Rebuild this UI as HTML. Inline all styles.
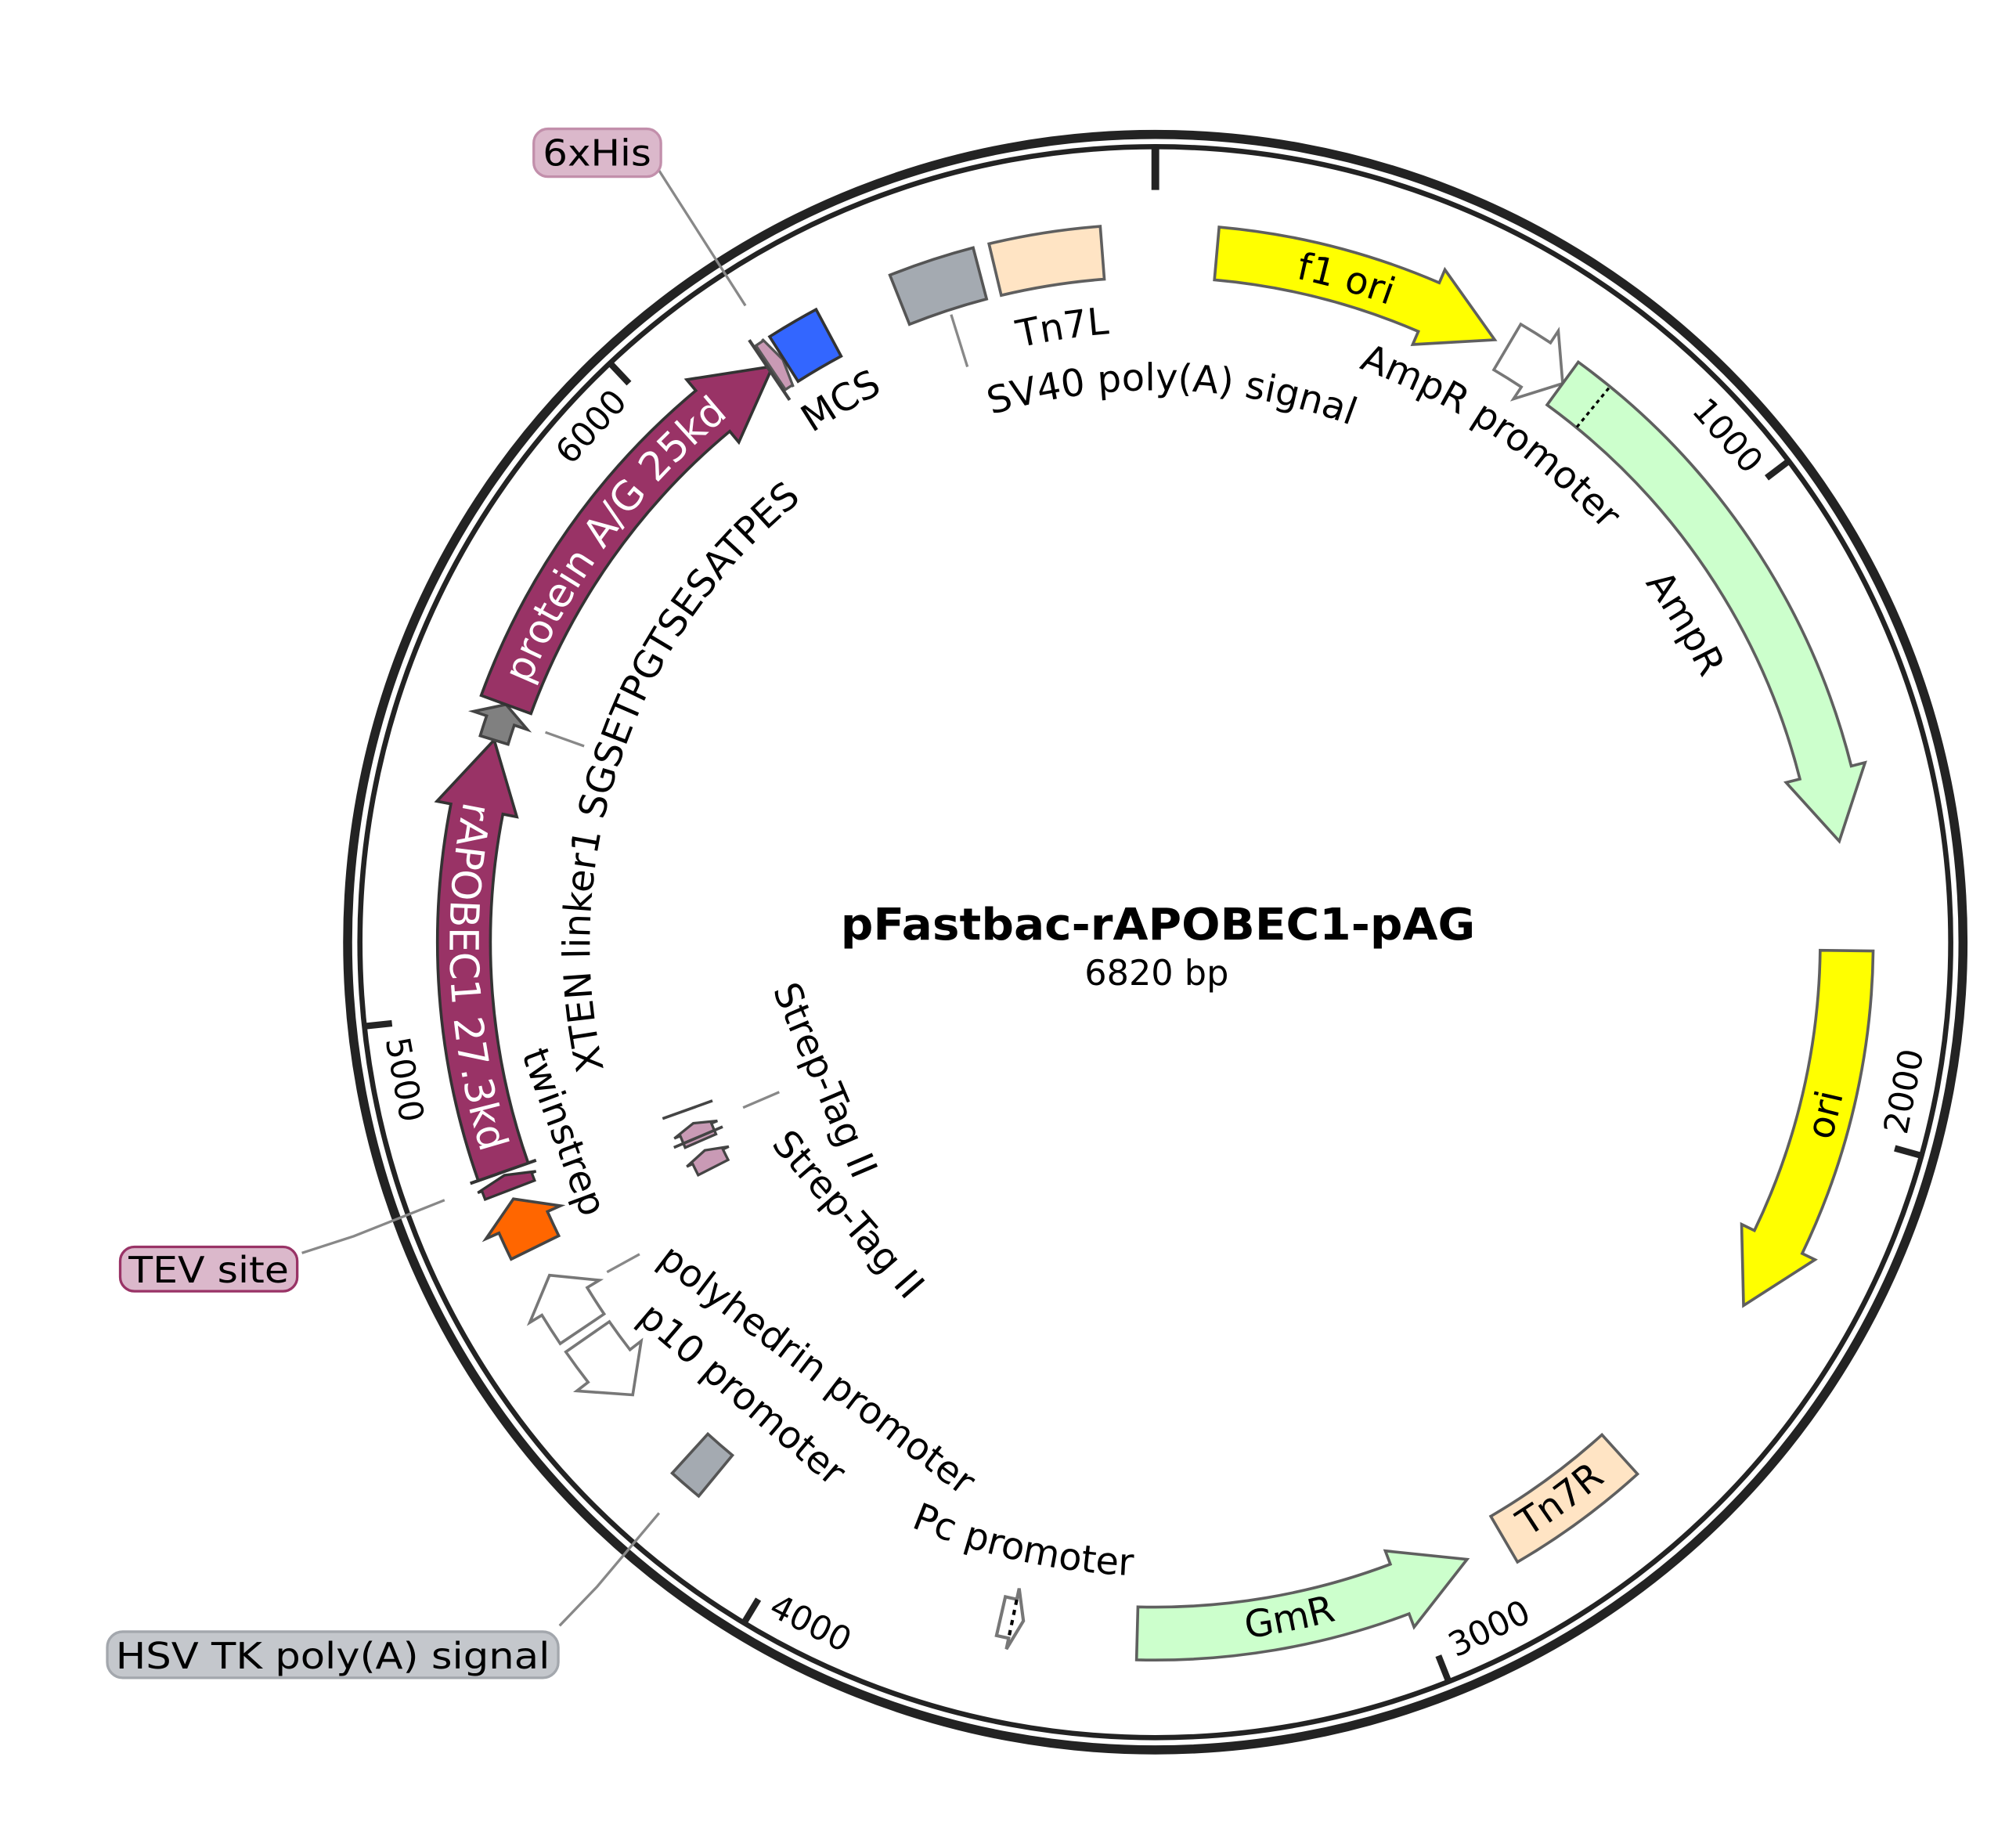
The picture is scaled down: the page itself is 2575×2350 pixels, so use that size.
<!DOCTYPE html>
<html><head><meta charset="utf-8"><style>
html,body{margin:0;padding:0;background:#fff;}
svg{display:block;}
text{font-family:"DejaVu Sans","Liberation Sans",sans-serif;fill:#000;}
</style></head><body>
<svg id="s" xmlns="http://www.w3.org/2000/svg" width="2575" height="2350" viewBox="0 0 1560 1423.7">
<rect width="1560" height="1423.7" fill="#fff"/>
<g id="ring"></g>
<g id="feat"></g>
<g id="lines" stroke="#888" stroke-width="2" fill="none">
<polyline points="510,132 576.8,236.5"/>
<polyline points="736,243.4 748.6,283.8"/>
<polyline points="422,566.6 452,577.3"/>
<polyline points="575,857 603,845"/>
<polyline points="469.7,984.3 494.9,970.4"/>
<polyline points="233.6,969.5 273.8,956.5 344,928.6"/>
<polyline points="433,1257.9 462,1227.7 510,1170.7"/>
</g>
<defs id="defs"></defs>
<rect x="413" y="99.7" width="98.4" height="37" rx="11" fill="#dbb8cb" stroke="#c28fab" stroke-width="2"/>
<text x="462" y="128" font-size="28" text-anchor="middle" textLength="84" lengthAdjust="spacingAndGlyphs">6xHis</text>
<rect x="93" y="964.8" width="137" height="34.3" rx="11" fill="#dbb8cb" stroke="#993366" stroke-width="2"/>
<text x="161.5" y="992.5" font-size="28" text-anchor="middle" textLength="124" lengthAdjust="spacingAndGlyphs">TEV site</text>
<rect x="83" y="1262.5" width="349" height="35.7" rx="12" fill="#c4c7cc" stroke="#a3a7ad" stroke-width="2"/>
<text x="257.5" y="1291" font-size="28" text-anchor="middle" textLength="336" lengthAdjust="spacingAndGlyphs">HSV TK poly(A) signal</text>
<text x="896" y="727" font-size="34" font-weight="bold" text-anchor="middle" textLength="491" lengthAdjust="spacingAndGlyphs">pFastbac-rAPOBEC1-pAG</text>
<text x="895" y="762" font-size="27" text-anchor="middle">6820 bp</text>
<text font-size="29" text-anchor="middle" dominant-baseline="central" transform="translate(632,1060) rotate(37.3)">polyhedrin promoter</text>
<text font-size="29" text-anchor="middle" dominant-baseline="central" transform="translate(574,1079) rotate(40.5)">p10 promoter</text>
<text font-size="29" text-anchor="middle" dominant-baseline="central" transform="translate(436,876) rotate(69.6)">twinstrep</text>
<text font-size="29" text-anchor="middle" dominant-baseline="central" transform="translate(638,836) rotate(66.9)">Strep-Tag II</text>
<text font-size="29" text-anchor="middle" dominant-baseline="central" transform="translate(656,940) rotate(49)">Strep-Tag II</text>
<text font-size="29"><textPath href="#p_tn7l" startOffset="50%" text-anchor="middle">Tn7L</textPath></text>
<text font-size="29"><textPath href="#p_sv40" startOffset="50%" text-anchor="middle">SV40 poly(A) signal</textPath></text>
<text font-size="29"><textPath href="#p_ampp" startOffset="50%" text-anchor="middle">AmpR promoter</textPath></text>
<text font-size="29"><textPath href="#p_ampr" startOffset="50%" text-anchor="middle">AmpR</textPath></text>
<text font-size="29"><textPath href="#p_f1" startOffset="50%" text-anchor="middle">f1 ori</textPath></text>
<text font-size="29"><textPath href="#p_ori" startOffset="50%" text-anchor="middle">ori</textPath></text>
<text font-size="29"><textPath href="#p_tn7r" startOffset="50%" text-anchor="middle">Tn7R</textPath></text>
<text font-size="29"><textPath href="#p_gmr" startOffset="50%" text-anchor="middle">GmR</textPath></text>
<text font-size="29"><textPath href="#p_pc" startOffset="50%" text-anchor="middle">Pc promoter</textPath></text>
<text font-size="29"><textPath href="#p_mcs" startOffset="50%" text-anchor="middle">MCS</textPath></text>
<text font-size="29"><textPath href="#p_xten" startOffset="50%" text-anchor="middle">XTEN linker1 SGSETPGTSESATPES</textPath></text>
<text font-size="31" style="fill:#fff"><textPath href="#p_pag" startOffset="50%" text-anchor="middle">protein A/G 25kd</textPath></text>
<text font-size="31" style="fill:#fff"><textPath href="#p_rapo" startOffset="50%" text-anchor="middle">rAPOBEC1 27.3kd</textPath></text>
<text id="k1" font-size="26" text-anchor="middle" dominant-baseline="central">1000</text>
<text id="k2" font-size="26" text-anchor="middle" dominant-baseline="central">2000</text>
<text id="k3" font-size="26" text-anchor="middle" dominant-baseline="central">3000</text>
<text id="k4" font-size="26" text-anchor="middle" dominant-baseline="central">4000</text>
<text id="k5" font-size="26" text-anchor="middle" dominant-baseline="central">5000</text>
<text id="k6" font-size="26" text-anchor="middle" dominant-baseline="central">6000</text>
</svg>
<script>
(function(){
var NS="http://www.w3.org/2000/svg";
var cx=894,cy=729;
function rad(a){return a*Math.PI/180;}
function P(r,a){return [cx+r*Math.sin(rad(a)),cy-r*Math.cos(rad(a))];}
function f(p){return p[0].toFixed(2)+","+p[1].toFixed(2);}
function arc(r,a1,a2){var sw=a2>a1?1:0;var la=Math.abs(a2-a1)>180?1:0;return "A"+r+","+r+" 0 "+la+" "+sw+" "+f(P(r,a2));}
function el(tag,attrs,parent){var e=document.createElementNS(NS,tag);for(var k in attrs)e.setAttribute(k,attrs[k]);(parent||document.getElementById("feat")).appendChild(e);return e;}
var ring=document.getElementById("ring");
el("circle",{cx:cx,cy:cy,r:625,fill:"none",stroke:"#232323","stroke-width":7},ring);
el("circle",{cx:cx,cy:cy,r:615.5,fill:"none",stroke:"#232323","stroke-width":4},ring);
var a0=P(615,0),a1=P(582,0);
el("line",{x1:a0[0],y1:a0[1],x2:a1[0],y2:a1[1],stroke:"#232323","stroke-width":6},ring);
for(var k=1;k<=6;k++){
 var t=k*1000/6820*360;
 var p1=P(615,t),p2=P(594,t);
 el("line",{x1:p1[0],y1:p1[1],x2:p2[0],y2:p2[1],stroke:"#232323","stroke-width":5},ring);
 var c=t-4.3, pc=P(591,c);
 var rot=(c<90||c>270)?c:c-180;
 document.getElementById("k"+k).setAttribute("transform","translate("+pc[0].toFixed(2)+","+pc[1].toFixed(2)+") rotate("+rot.toFixed(2)+")");
}
function feat(a1,a2,rc,hw,dir,hl,hh,fill,stroke,sw){
 var ro=rc+hw,ri=rc-hw,d;
 if(!dir){
  d="M"+f(P(ro,a1))+arc(ro,a1,a2)+"L"+f(P(ri,a2))+arc(ri,a2,a1)+"Z";
 } else if(dir>0){
  var hb=a2-hl;
  d="M"+f(P(ro,a1))+(hb>a1?arc(ro,a1,hb):"L"+f(P(ro,hb)))+"L"+f(P(rc+hh,hb))+"L"+f(P(rc,a2))+"L"+f(P(rc-hh,hb))+"L"+f(P(ri,hb))+(hb>a1?arc(ri,hb,a1):"L"+f(P(ri,a1)))+"Z";
 } else {
  var hb=a1+hl;
  d="M"+f(P(ro,a2))+(hb<a2?arc(ro,a2,hb):"L"+f(P(ro,hb)))+"L"+f(P(rc+hh,hb))+"L"+f(P(rc,a1))+"L"+f(P(rc-hh,hb))+"L"+f(P(ri,hb))+(hb<a2?arc(ri,hb,a2):"L"+f(P(ri,a2)))+"Z";
 }
 return el("path",{d:d,fill:fill,stroke:stroke||"#5f5f5f","stroke-width":sw||2.2,"stroke-linejoin":"miter"});
}
function rline(r1,r2,a,col,w,dash){var p=P(r1,a),q=P(r2,a);var e=el("line",{x1:p[0],y1:p[1],x2:q[0],y2:q[1],stroke:col,"stroke-width":w});if(dash)e.setAttribute("stroke-dasharray",dash);return e;}
var R=535,H=20.5,HH=31.5;
feat(5.1,29.4,R,H,1,6.1,HH,"#ffff00");
feat(30.6,36.1,R,H,1,2.7,HH,"#ffffff","#777");
feat(36.1,81.6,R,H,1,5.8,HH,"#ccffcc");
rline(515,555,39.3,"#000",2,"3,3");
feat(90.7,121.7,R,H,1,6.0,HH,"#ffff00");
feat(137.8,149.7,R,H,0,0,0,"#ffe4c4");
feat(153.2,181.5,R,H,-1,6.1,HH,"#ccffcc");
feat(191.0,192.9,R,H*0.75,-1,0.9,24,"#ffffff","#777",2.5);
rline(520,550,191.9,"#000",2.5,"4,4");
feat(219.5,222.3,R,H,0,0,0,"#a4aab1","#555");
feat(229.1,235.2,R,H,-1,3.1,HH,"#ffffff","#777");
feat(236.0,241.2,R,H,1,2.5,HH,"#ffffff","#777");
feat(243.8,248.2,R,H,1,2.1,HH,"#ff6600","#444");
feat(249.0,250.3,R,H,1,0.6,24,"#993366","#333",2);
rline(508,562,250.6,"#333",2.5);
feat(250.6,287.0,R,H,1,5.9,HH,"#993366","#333");
feat(287.0,290.1,R,H*0.55,1,1.4,22,"#808080","#444");
feat(290.1,326.4,R,H,1,6.2,HH,"#993366","#333");
feat(326.2,327.4,R,H,1,0.5,22,"#c99ab5","#555",2);
rline(506,562,326.0,"#444",2.5);
feat(327.5,331.8,R,H,0,0,0,"#3366ff","#333");
feat(338.3,345.3,R,H,0,0,0,"#a4aab1","#555");
feat(346.6,355.6,R,H,0,0,0,"#ffe4c4");
feat(246.4,248.6,384,13,1,0.8,18,"#c99ab5","#444",2);
rline(364,405,250.3,"#444",2.2);
feat(243.0,245.2,384,13,1,0.8,18,"#c99ab5","#444",2);
rline(364,405,246.9,"#444",2.2);
var defs=document.getElementById("defs");
function tp(id,r,center,cw){
 var d;
 if(cw){var s=center-180;d="M"+f(P(r,s))+"A"+r+","+r+" 0 1 1 "+f(P(r,s+180))+"A"+r+","+r+" 0 1 1 "+f(P(r,s+359.9));}
 else{var s=center+180;d="M"+f(P(r,s))+"A"+r+","+r+" 0 1 0 "+f(P(r,s-180))+"A"+r+","+r+" 0 1 0 "+f(P(r,s-359.9));}
 el("path",{id:id,d:d,fill:"none"},defs);
}
tp("p_tn7l",472,351.3,true);
tp("p_sv40",427,1.7,true);
tp("p_ampp",471,33.5,true);
tp("p_ampr",470,59,true);
tp("p_f1",525,16,true);
tp("p_ori",545,104.3,false);
tp("p_tn7r",543,144,false);
tp("p_gmr",543,168.7,false);
tp("p_pc",490,192.3,false);
tp("p_mcs",475,330,true);
tp("p_xten",437,289.2,true);
tp("p_pag",524,306.5,true);
tp("p_rapo",546,267.2,false);
})();
</script>
</body></html>
